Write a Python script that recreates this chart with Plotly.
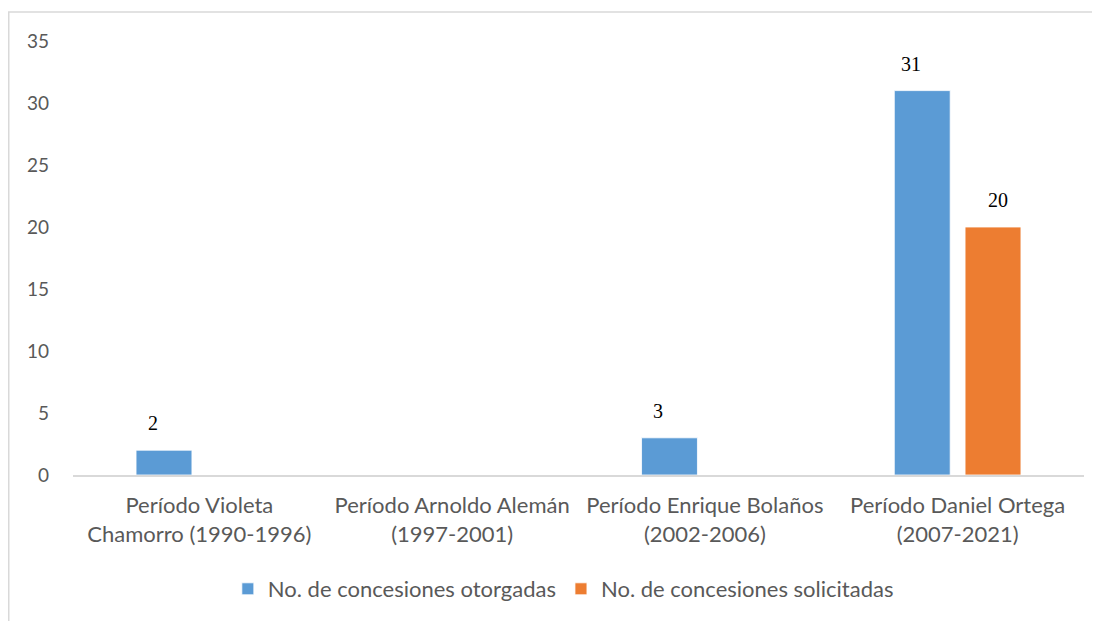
import plotly.graph_objects as go

categories = [
    "Período Violeta<br>Chamorro (1990-1996)",
    "Período Arnoldo Alemán<br>(1997-2001)",
    "Período Enrique Bolaños<br>(2002-2006)",
    "Período Daniel Ortega<br>(2007-2021)",
]
series_names = ["No. de concesiones otorgadas", "No. de concesiones solicitadas"]
otorgadas = [2, None, 3, 31]
solicitadas = [None, None, None, 20]
y_ticks = [0, 5, 10, 15, 20, 25, 30, 35]

BLUE = "#5B9BD5"
ORANGE = "#ED7D31"
GREY_TXT = "#595959"
FONT = "Lato"

# page has an 8px body margin, so the figure starts at (8, 8)
W, H = 1092, 613
L, R, T, B = 65, 16, 33, 145
pw, ph = W - L - R, H - T - B

fig = go.Figure()
fig.add_trace(go.Bar(x=categories, y=otorgadas, name=series_names[0],
                     marker=dict(color=BLUE, line=dict(color="#FFFFFF", width=0.8))))
fig.add_trace(go.Bar(x=categories, y=solicitadas, name=series_names[1],
                     marker=dict(color=ORANGE, line=dict(color="#FFFFFF", width=0.8))))

slot_px = 35.5
for vals, sh in ((otorgadas, -slot_px - 11), (solicitadas, slot_px + 5)):
    for c, v in zip(categories, vals):
        if v is None:
            continue
        fig.add_annotation(x=c, y=v, text=str(v), showarrow=False,
                           xshift=sh, yshift=27, yanchor="middle",
                           font=dict(family="Liberation Serif", size=20, color="#000000"))

# chart frame (left and top edges only, as in reference)
x0 = (0.75 - L) / pw
y0 = 1 + (T - 4) / ph
fig.add_shape(type="path", xref="paper", yref="paper",
              path=f"M {x0} {-(B + 10) / ph} L {x0} {y0} L {1 + (R + 10) / pw} {y0}",
              line=dict(color="#D9D9D9", width=1.5))

fig.update_layout(
    width=W, height=H,
    margin=dict(l=L, r=R, t=T, b=B),
    paper_bgcolor="white", plot_bgcolor="white",
    barmode="group", bargap=0.44, bargroupgap=0.21,
    font=dict(family=FONT, size=21, color=GREY_TXT),
    showlegend=True,
    legend=dict(orientation="h", x=0.485, xanchor="center", y=-113 / ph, yanchor="middle",
                font=dict(family=FONT, size=22, color=GREY_TXT),
                itemwidth=30, traceorder="normal"),
)
fig.update_xaxes(showline=True, linecolor="#D9D9D9", linewidth=1.5, showgrid=False,
                 ticks="", ticklabelstandoff=10,
                 tickfont=dict(family=FONT, size=22, color=GREY_TXT))
fig.update_yaxes(range=[0, 35], tickvals=y_ticks, showgrid=False, zeroline=False,
                 showline=False, ticks="", ticklabelstandoff=23,
                 tickfont=dict(family=FONT, size=19, color=GREY_TXT))

fig.write_html("out.html")
